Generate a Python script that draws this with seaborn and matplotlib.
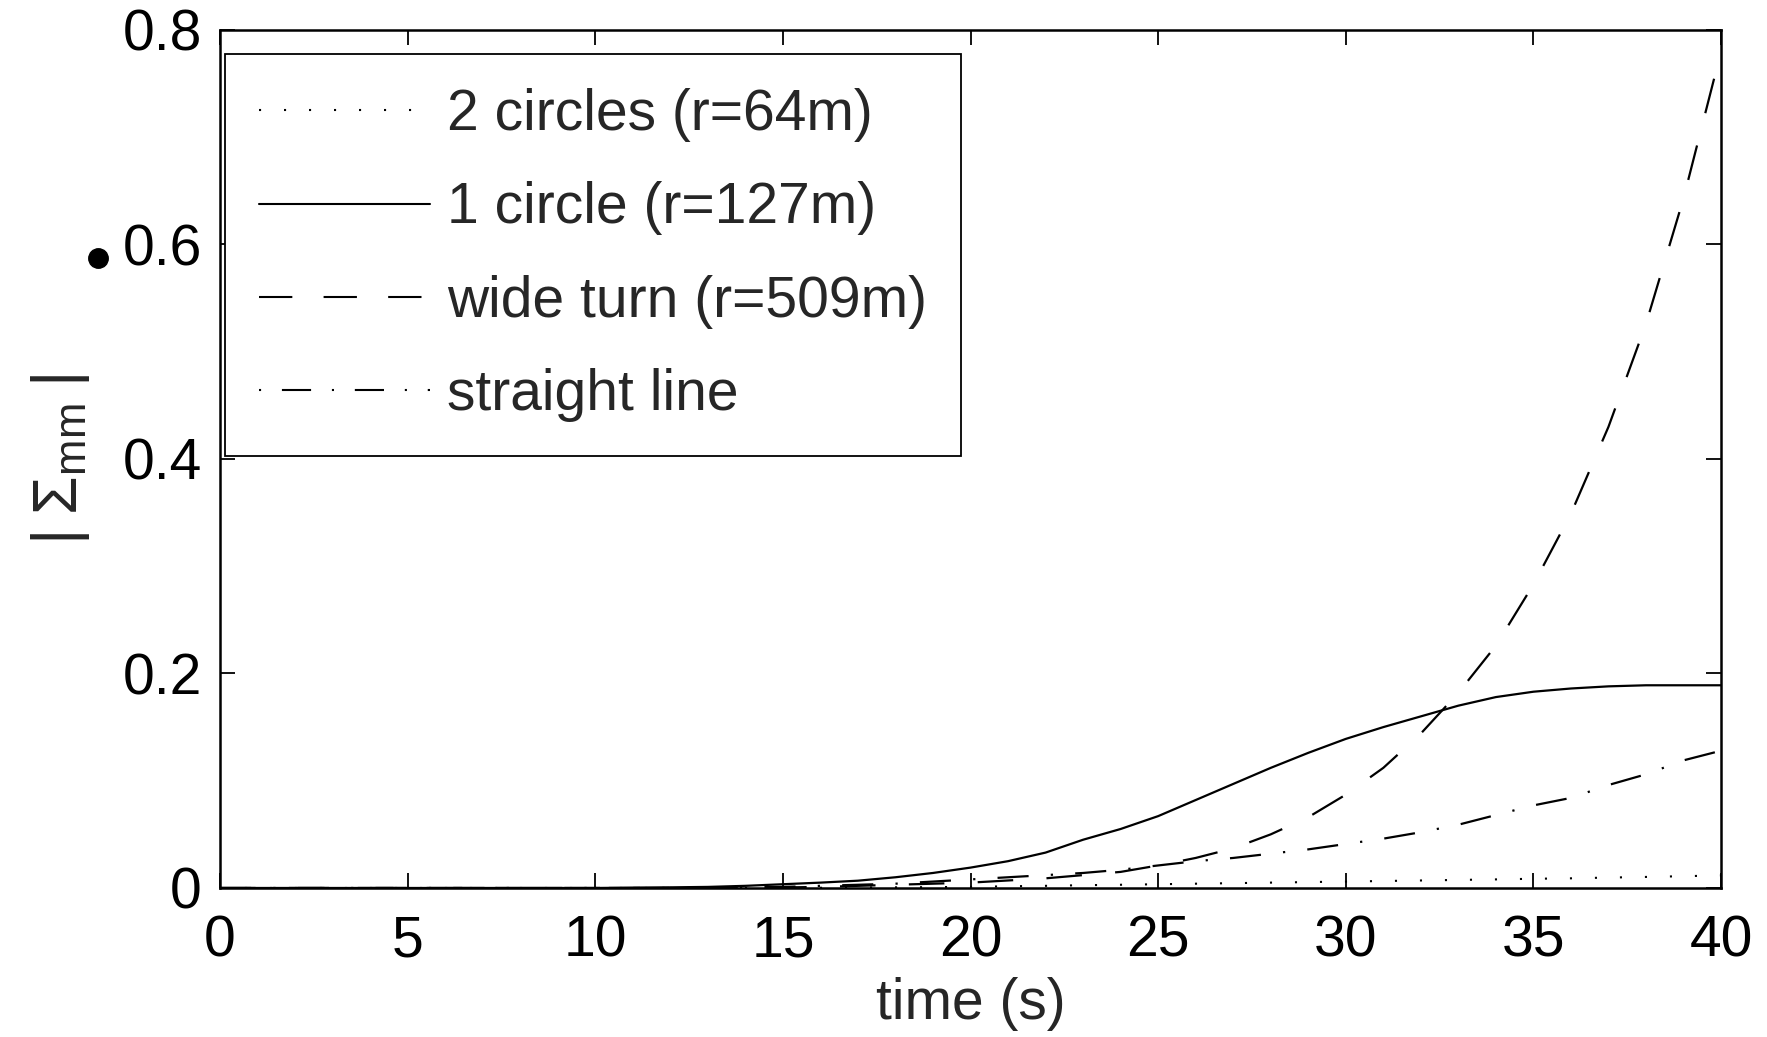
import matplotlib
matplotlib.use("Agg")
import matplotlib.pyplot as plt
import seaborn as sns
import pandas as pd
from matplotlib.lines import Line2D

# ---- data ----
time = list(range(0, 41))

two_circles = [0, 0, 0, 0, 0, 0, 0, 0, 0, 0,
               0, 0, 0, 0, 0, 0, 0.0002, 0.0004, 0.0006, 0.0008,
               0.001, 0.0016, 0.002, 0.0026, 0.003, 0.0035, 0.004, 0.0045, 0.005, 0.0055,
               0.006, 0.0065, 0.007, 0.0075, 0.008, 0.0086, 0.009, 0.0097, 0.0103, 0.011,
               0.0117]

one_circle = [0, 0, 0, 0, 0, 0, 0, 0, 0, 0,
              0, 0.0003, 0.0006, 0.001, 0.002, 0.0035, 0.005, 0.0068, 0.010, 0.014,
              0.019, 0.025, 0.033, 0.045, 0.055, 0.067, 0.082, 0.097, 0.112, 0.126,
              0.139, 0.150, 0.160, 0.170, 0.178, 0.183, 0.186, 0.188, 0.189, 0.189,
              0.189]

wide_turn = [0, 0, 0, 0, 0, 0, 0, 0, 0, 0,
             0, 0, 0, 0, 0, 0.0005, 0.001, 0.002, 0.003, 0.004,
             0.005, 0.007, 0.009, 0.012, 0.015, 0.021, 0.028, 0.037, 0.050, 0.066,
             0.087, 0.112, 0.144, 0.182, 0.226, 0.283, 0.349, 0.430, 0.526, 0.643,
             0.780]

straight_line = [0, 0, 0, 0, 0, 0, 0, 0, 0, 0,
                 0, 0, 0, 0.0003, 0.0006, 0.001, 0.002, 0.003, 0.004, 0.006,
                 0.008, 0.010, 0.012, 0.014, 0.017, 0.021, 0.025, 0.028, 0.032, 0.036,
                 0.041, 0.046, 0.052, 0.059, 0.068, 0.077, 0.084, 0.096, 0.106, 0.119,
                 0.128]

labels = ["2 circles (r=64m)", "1 circle (r=127m)", "wide turn (r=509m)", "straight line"]
series = [two_circles, one_circle, wide_turn, straight_line]

xticks = [0, 5, 10, 15, 20, 25, 30, 35, 40]
yticks = [0, 0.2, 0.4, 0.6, 0.8]
yticklabels = ["0", "0.2", "0.4", "0.6", "0.8"]

# ---- style ----
sns.set_style("ticks")
plt.rcParams["font.family"] = ["Liberation Sans", "DejaVu Sans"]
plt.rcParams["mathtext.fontset"] = "custom"
plt.rcParams["mathtext.rm"] = "Liberation Sans"
plt.rcParams["mathtext.it"] = "Liberation Sans:italic"
plt.rcParams["mathtext.sf"] = "Liberation Sans"

FS = 41

fig = plt.figure(figsize=(17.67, 10.37), dpi=100)
ax = fig.add_axes([0.1245, 0.1437, 0.8495, 0.8274])
ax.set_facecolor("white")

styles = [(0, (1, 11)), "-", (0, (16, 15)), (0, (14, 10, 1, 10))]
widths = [1.5, 1.6, 1.6, 1.6]

df = pd.DataFrame({"time": time})
for lab, ser, ls, lw in zip(labels, series, styles, widths):
    df[lab] = ser
    sns.lineplot(data=df, x="time", y=lab, ax=ax, color="black",
                 linestyle=ls, linewidth=lw, label=lab)

ax.set_xlim(0, 40)
ax.set_ylim(0, 0.8)
ax.set_xticks(xticks)
ax.set_xticklabels([str(t) for t in xticks])
ax.set_yticks(yticks)
ax.set_yticklabels(yticklabels)

for sp in ax.spines.values():
    sp.set_visible(True)
    sp.set_linewidth(1.8)
    sp.set_color("black")

ax.tick_params(axis="both", which="major", direction="in", length=10.5, width=1.3,
               top=True, right=True, labelsize=FS, colors="black")
ax.tick_params(axis="x", pad=19)
ax.tick_params(axis="y", pad=13)

ax.set_xlabel("time (s)", fontsize=FS, labelpad=6)
ax.set_ylabel(r"$|\;\Sigma_{\mathrm{mm}}\;|$", fontsize=45, labelpad=22)

leg = ax.legend(loc="upper left", bbox_to_anchor=(0.0033, 0.972), borderaxespad=0,
                fontsize=FS, frameon=True, fancybox=False, shadow=False,
                handlelength=3.0, handletextpad=0.3, labelspacing=0.69,
                borderpad=0.6)
leg.get_frame().set_edgecolor("black")
leg.get_frame().set_linewidth(1.3)
leg.get_frame().set_facecolor("white")
leg.get_frame().set_alpha(1)
leg_styles = [(0, (1, 11)), "-", (0, (16, 15)), (0, (1, 10, 14, 10))]
for h, ls in zip(leg.get_lines(), leg_styles):
    h.set_linestyle(ls)
    h.set_linewidth(1.5)

# stray dot at left of the 0.6 tick label in the reference
fig.add_artist(Line2D([98 / 1767], [1 - 258 / 1037], marker="o", markersize=14,
                      color="black", linestyle="none", transform=fig.transFigure))

fig.savefig("out.png", dpi=100, facecolor="white")
